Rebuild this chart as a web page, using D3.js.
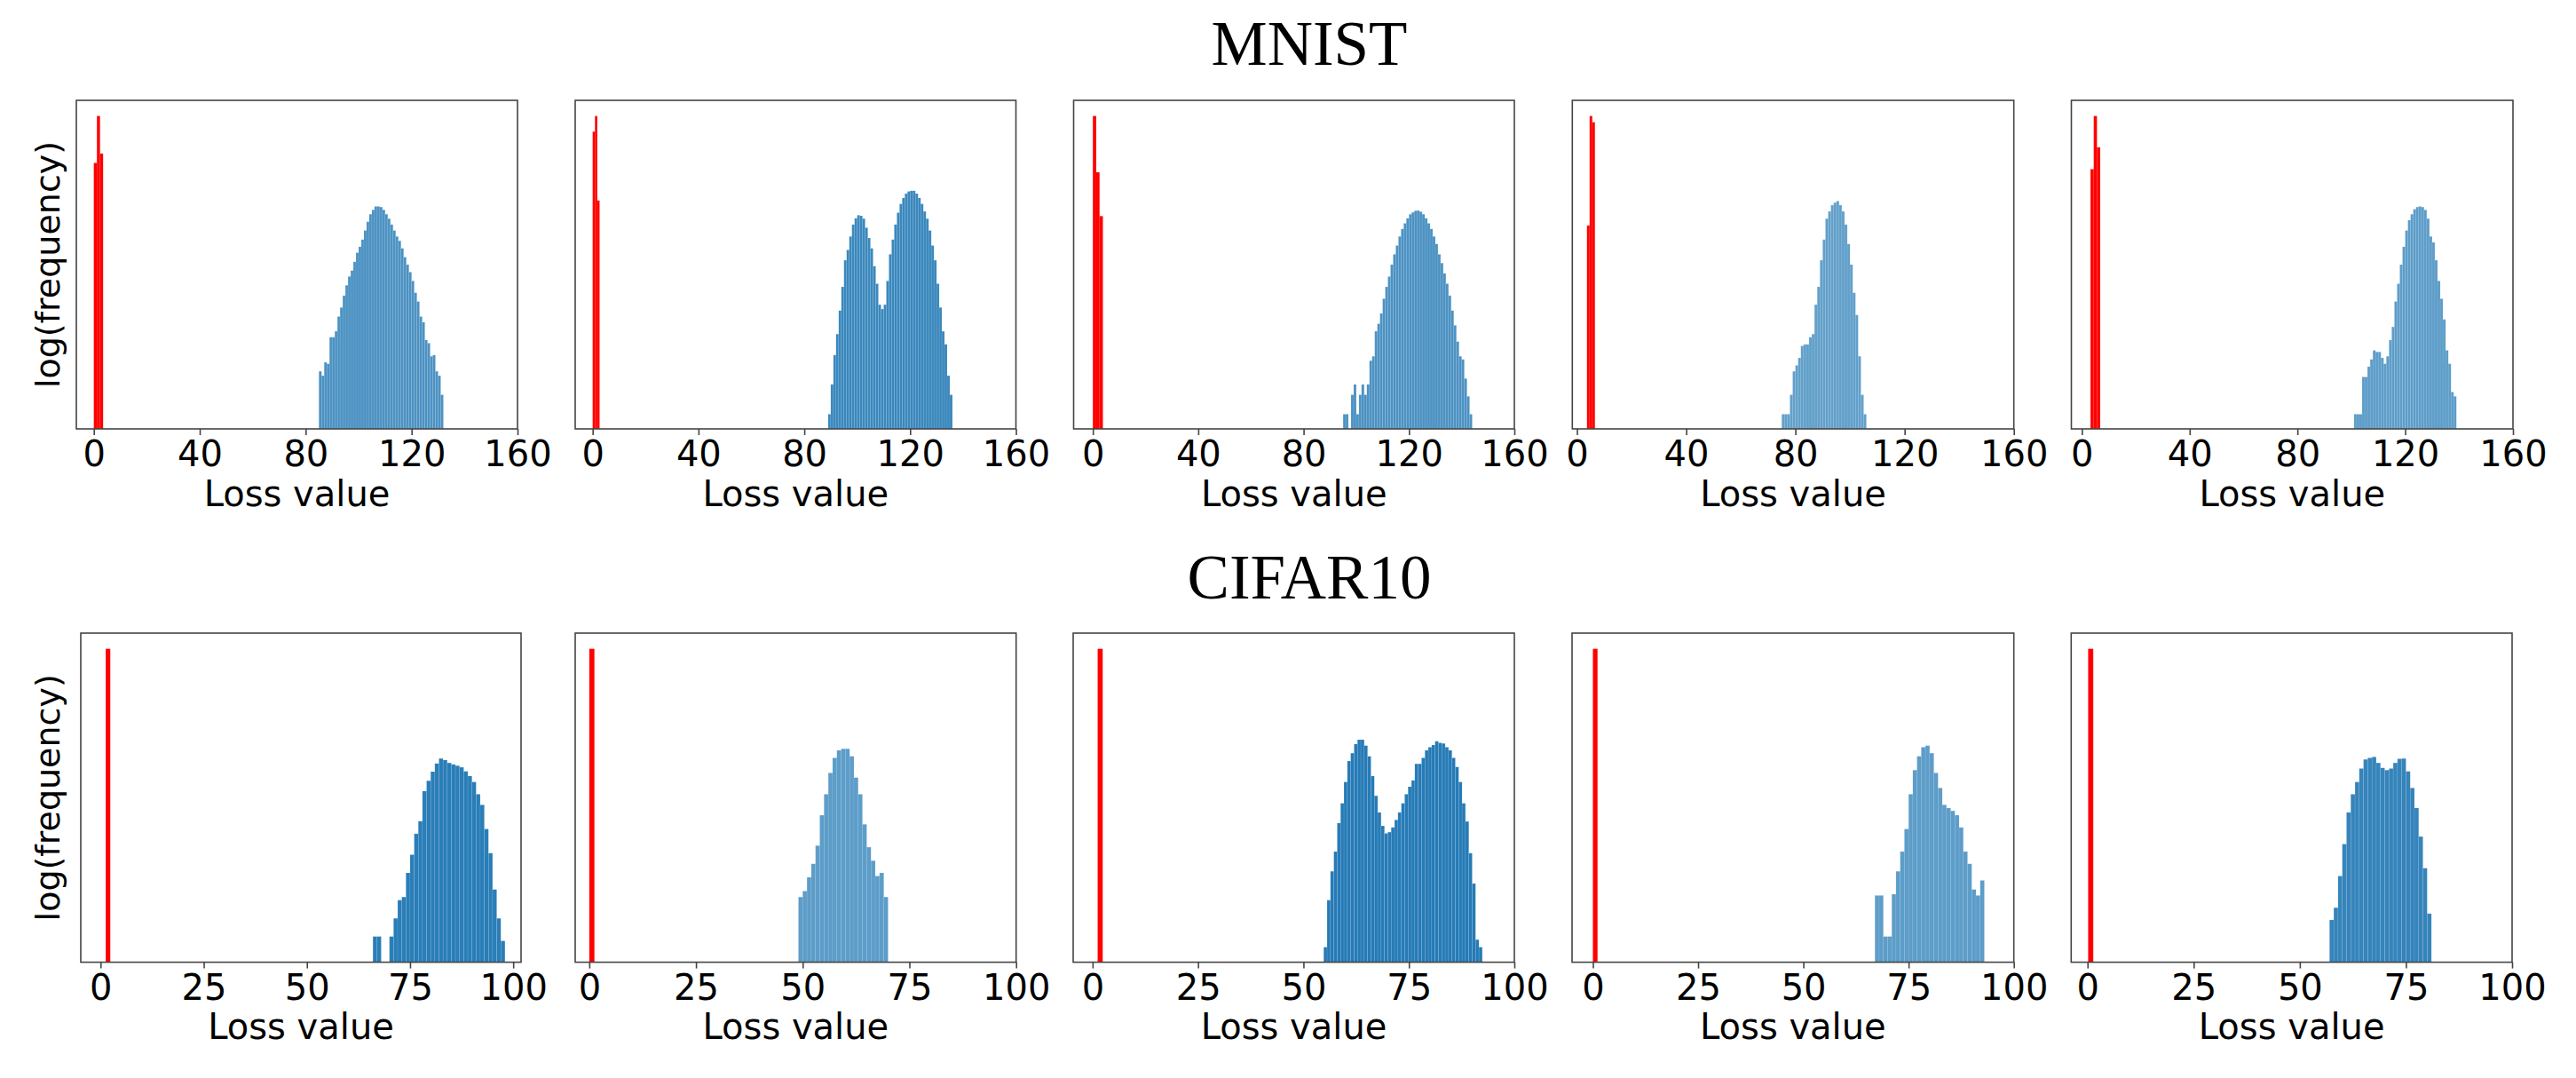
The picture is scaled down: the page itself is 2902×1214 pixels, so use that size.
<!DOCTYPE html>
<html><head><meta charset="utf-8">
<script src="https://cdn.jsdelivr.net/npm/d3@7"></script>
<style>body{margin:0;background:#fff}</style>
</head><body>
<svg id="c" width="2902" height="1214"></svg>
<script>
// ---------------- data ----------------
const datasets = ["MNIST", "CIFAR10"];
const xLabel = "Loss value";
const yLabel = "log(frequency)";
const mnistTicks = [0, 40, 80, 120, 160];
const cifarTicks = [0, 25, 50, 75, 100];

// x-axis limits of each panel
const mnistXMin = [-6.6, -6.6, -7.3, -1.7, -3.9];
const mnistXMax = [160, 160, 160, 160, 160];
const cifarXMin = [-4.8, -3.3, -4.6, -4.95, -3.85];
const cifarXMax = [101.9, 100, 100, 100, 100];

// red histograms (member losses): first bin edge, bin width, bin heights (log-frequency, relative)
const mnistRedStart = [0, 0, 0, 3.66, 3.2];
const mnistRedWidth = [1.17, 0.87, 1.27, 0.97, 1.2];
const mnistRed = [[85, 100, 88], [95, 100, 73], [100, 82, 68], [65, 100, 98], [83, 100, 90]];
const cifarRedStart = [1.25, 0, 1.2, 0, 0.15];
const cifarRedWidth = [1.1, 1.2, 1.2, 1.1, 1.2];
const cifarRed = [[100], [100], [100], [100], [100]];

// blue histograms (non-member losses)
const mnistBlueStart = [85, 89, 95, 75, 101];
const mnistBlueWidth = [1, 1, 1, 1, 1];
const mnistBlue0 = [18.4,17.0,21.3,20.8,29.3,29.3,31.2,35.9,38.8,42.6,45.9,48.7,50.6,53.4,56.3,58.2,60.5,63.4,66.2,68.6,70.0,71.1,71.1,70.9,70.0,68.6,67.2,65.3,63.4,61.5,60.1,57.7,54.9,52.5,50.1,47.3,43.5,40.7,35.9,34.1,28.4,27.4,23.2,23.6,18.4,17.0,10.9];
const mnistBlue1 = [4.7,14.2,23.6,30.3,37.8,45.4,53.9,57.2,61.5,65.3,67.3,68.3,68.1,67.2,64.3,61.0,57.7,52.0,46.4,39.7,38.3,39.7,47.3,55.8,60.5,65.3,69.1,71.9,73.8,75.2,75.9,76.1,76.1,75.2,73.8,71.9,69.5,67.2,63.4,58.6,53.9,46.4,38.8,31.2,27.0,17.0,10.9];
const mnistBlue2 = [4.7,4.7,0,10.9,14.2,4.7,10.9,14.2,10.9,14.2,21.8,23.2,31.2,33.6,36.9,41.6,45.4,48.7,52.5,55.8,58.6,61.5,63.9,65.7,67.3,68.6,69.2,69.7,69.8,69.4,68.6,67.3,65.7,63.9,61.5,59.1,55.8,53.0,49.7,46.4,42.6,37.8,33.1,27.9,23.2,22.2,16.1,10.4,4.7];
const mnistBlue3 = [4.7,4.7,4.7,10.9,18.4,20.3,22.7,26.5,27.0,27.0,29.3,30.3,39.7,45.4,53.9,60.5,67.2,69.5,71.5,72.3,72.8,71.5,69.5,65.3,59.1,52.5,43.5,36.4,23.2,10.9,4.7];
const mnistBlue4 = [4.7,4.7,4.7,16.6,16.6,19.9,22.2,25.1,24.6,24.6,22.7,20.8,23.2,28.4,32.6,40.7,46.4,52.5,58.2,63.4,66.7,68.6,70.2,70.9,71.1,70.9,70.0,67.2,61.5,59.6,53.9,47.3,41.6,35.0,25.1,20.8,11.8,10.4];

const cifarBlueStart = [66, 49, 54.8, 67, 57];
const cifarBlueWidth = [1, 1, 0.8, 1, 1];
const cifarBlue0 = [8.2,8.2,0,0,8.2,14.0,19.8,20.8,28.5,34.3,41.0,45.0,54.6,57.9,60.8,63.4,65.0,64.5,63.6,63.1,62.7,62.2,60.9,59.4,57.5,53.6,50.2,42.5,34.8,23.2,14.0,6.8];
const cifarBlue1 = [20.8,22.7,27.1,31.4,37.2,46.9,53.6,60.4,65.2,67.6,68.1,68.1,65.7,58.9,53.6,44.0,36.7,32.4,27.5,28.5,20.8];
const cifarBlue2 = [4.8,19.8,29.0,35.3,44.4,50.7,57.5,64.2,66.7,69.6,71.0,71.0,69.1,65.7,59.4,53.1,47.8,43.5,41.1,41.5,43.0,45.4,47.8,50.7,53.6,56.0,58.0,63.3,63.3,65.2,67.6,68.6,69.3,70.5,70.0,69.8,68.6,67.6,65.2,62.3,57.5,50.7,44.9,34.8,25.1,7.2,4.8];
const cifarBlue3 = [21.3,21.3,8.2,8.2,21.7,29.0,35.3,42.5,53.6,61.3,65.7,68.6,69.1,66.7,60.4,55.6,50.2,49.2,48.3,46.9,43.0,35.3,31.4,23.2,21.3,26.1];
const cifarBlue4 = [13.5,17.4,27.5,37.7,47.8,53.6,57.5,61.8,64.7,65.2,65.5,63.6,62.0,61.3,61.8,63.6,64.9,65.0,60.9,55.6,49.2,40.1,30.0,15.5];

// ---------------- layout / style ----------------
const svg = d3.select("#c");
const rows = [
  { title: datasets[0], titleY: 73, top: 113, bottom: 483,
    lefts: [86, 648, 1209.5, 1771.3, 2333.5], rights: [583, 1144.5, 1706, 2268.7, 2831],
    ticks: mnistTicks, xmin: mnistXMin, xmax: mnistXMax,
    redStart: mnistRedStart, redWidth: mnistRedWidth, red: mnistRed,
    blueStart: mnistBlueStart, blueWidth: mnistBlueWidth,
    blue: [mnistBlue0, mnistBlue1, mnistBlue2, mnistBlue3, mnistBlue4],
    alpha: [0.8, 0.88, 0.8, 0.7, 0.72] },
  { title: datasets[1], titleY: 674, top: 713, bottom: 1083.6,
    lefts: [91, 648, 1209, 1771, 2333.3], rights: [587, 1144.7, 1706, 2268.7, 2830],
    ticks: cifarTicks, xmin: cifarXMin, xmax: cifarXMax,
    redStart: cifarRedStart, redWidth: cifarRedWidth, red: cifarRed,
    blueStart: cifarBlueStart, blueWidth: cifarBlueWidth,
    blue: [cifarBlue0, cifarBlue1, cifarBlue2, cifarBlue3, cifarBlue4],
    alpha: [0.95, 0.72, 0.97, 0.72, 0.9] }
];

const tickFont = "'DejaVu Sans', sans-serif";
const spineColor = "#444";

rows.forEach(row => {
  svg.append("text")
    .attr("x", 1475).attr("y", row.titleY)
    .attr("text-anchor", "middle")
    .attr("font-family", "'Liberation Serif', 'Times New Roman', serif")
    .attr("font-size", 71)
    .attr("fill", "#000")
    .text(row.title);

  for (let p = 0; p < 5; p++) {
    const left = row.lefts[p], right = row.rights[p];
    const g = svg.append("g");
    const x = d3.scaleLinear().domain([row.xmin[p], row.xmax[p]]).range([left, right]);
    const redMax = d3.max(row.red[p]);
    const y = d3.scaleLinear().domain([0, redMax * 1.05]).range([row.bottom, row.top]);

    // blue histogram
    const bw = row.blueWidth[p], bs = row.blueStart[p];
    g.append("g").selectAll("rect")
      .data(row.blue[p].map((v, i) => ({ x0: bs + i * bw, x1: bs + (i + 1) * bw, v })))
      .join("rect")
      .attr("x", d => x(d.x0))
      .attr("width", d => Math.max(0, x(d.x1) - x(d.x0)))
      .attr("y", d => y(d.v))
      .attr("height", d => row.bottom - y(d.v))
      .attr("fill", "#1f77b4")
      .attr("fill-opacity", row.alpha[p])
      .attr("stroke", "#ffffff")
      .attr("stroke-opacity", 0.18)
      .attr("stroke-width", 0.5);

    // red histogram
    const rw = row.redWidth[p], rs = row.redStart[p];
    g.append("g").selectAll("rect")
      .data(row.red[p].map((v, i) => ({ x0: rs + i * rw, x1: rs + (i + 1) * rw, v })))
      .join("rect")
      .attr("x", d => x(d.x0))
      .attr("width", d => x(d.x1) - x(d.x0))
      .attr("y", d => y(d.v))
      .attr("height", d => row.bottom - y(d.v))
      .attr("fill", "#ff0000");

    // x axis
    const ax = g.append("g")
      .attr("transform", `translate(0,${row.bottom})`)
      .call(d3.axisBottom(x).tickValues(row.ticks).tickFormat(d3.format("d")).tickSize(7).tickPadding(6.6).tickSizeOuter(0));
    ax.select(".domain").remove();
    ax.selectAll(".tick line").attr("stroke", spineColor).attr("stroke-width", 1.6);
    ax.selectAll(".tick text")
      .attr("font-family", tickFont).attr("font-size", 40).attr("fill", "#000");

    // frame
    g.append("rect")
      .attr("x", left).attr("y", row.top)
      .attr("width", right - left).attr("height", row.bottom - row.top)
      .attr("fill", "none").attr("stroke", spineColor).attr("stroke-width", 1.6);

    // x label
    g.append("text")
      .attr("x", (left + right) / 2).attr("y", row.bottom + 86.5)
      .attr("text-anchor", "middle")
      .attr("font-family", tickFont).attr("font-size", 40).attr("fill", "#000")
      .text(xLabel);

    if (p === 0) {
      g.append("text")
        .attr("transform", `translate(67,${(row.top + row.bottom) / 2}) rotate(-90)`)
        .attr("text-anchor", "middle")
        .attr("font-family", tickFont).attr("font-size", 38).attr("fill", "#000")
        .text(yLabel);
    }
  }
});
</script>
</body></html>
